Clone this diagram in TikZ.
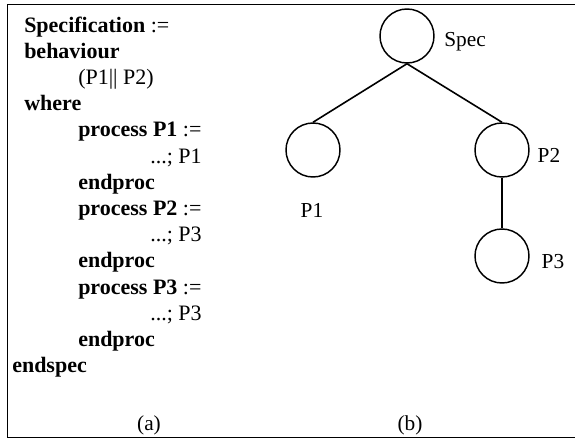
\documentclass[tikz,border=0pt]{standalone}
\usepackage{fontspec}
\setmainfont{Liberation Serif}
\begin{document}
\begin{tikzpicture}[x=0.75pt,y=-0.75pt,
  txt/.style={anchor=base west,inner sep=0pt,font=\fontsize{16.5}{19}\selectfont},
  kw/.style={txt,font=\fontsize{16.5}{19}\selectfont\bfseries},
  proc/.style={circle,draw,line width=1.1pt,minimum size=40.5pt,inner sep=0pt},
  lbl/.style={inner sep=0pt,font=\fontsize{16}{19}\selectfont},
  edge/.style={line width=1.2pt},
  frame/.style={line width=1.2pt}]
\useasboundingbox (0,0) rectangle (575,440);
% open frame (its right side lies past the page edge)
\draw[frame] (580,4.5) -- (7.5,4.5) -- (7.5,437.5) -- (580,437.5);

% (a) the specification text
\node[kw]  (l1)  at (24,32)    {Specification \mdseries:=};
\node[kw]  (l2)  at (24,58.2)  {behaviour};
\node[txt] (l3)  at (78,84.4)  {(P1|| P2)};
\node[kw]  (l4)  at (24,110.6) {where};
\node[kw]  (l5)  at (78,136.8) {process P1 \mdseries:=};
\node[txt] (l6)  at (150,163)  {...; P1};
\node[kw]  (l7)  at (78,189.2) {endproc};
\node[kw]  (l8)  at (78,215.4) {process P2 \mdseries:=};
\node[txt] (l9)  at (150,241.6) {...; P3};
\node[kw]  (l10) at (78,267.8) {endproc};
\node[kw]  (l11) at (78,294)   {process P3 \mdseries:=};
\node[txt] (l12) at (150,320.2) {...; P3};
\node[kw]  (l13) at (78,346.4) {endproc};
\node[kw]  (l14) at (12,372.6) {endspec};
\node[lbl] (capa) at (149,425) {(a)};

% (b) the process tree
\node[proc] (spec) at (407,36)  {};
\node[proc] (p1)   at (313,150) {};
\node[proc] (p2)   at (502,150) {};
\node[proc] (p3)   at (502,256) {};
\node[lbl]  (specL) at (465,42)  {Spec};
\node[lbl]  (p1L)   at (312,210) {P1};
\node[lbl]  (p2L)   at (549,155) {P2};
\node[lbl]  (p3L)   at (553,262) {P3};
\node[lbl]  (capb)  at (410,425) {(b)};

\draw[edge] (spec.south) -- (p1.north);
\draw[edge] (spec.south) -- (p2.north);
\draw[edge] (p2.south) -- (p3.north);
\end{tikzpicture}
\end{document}
